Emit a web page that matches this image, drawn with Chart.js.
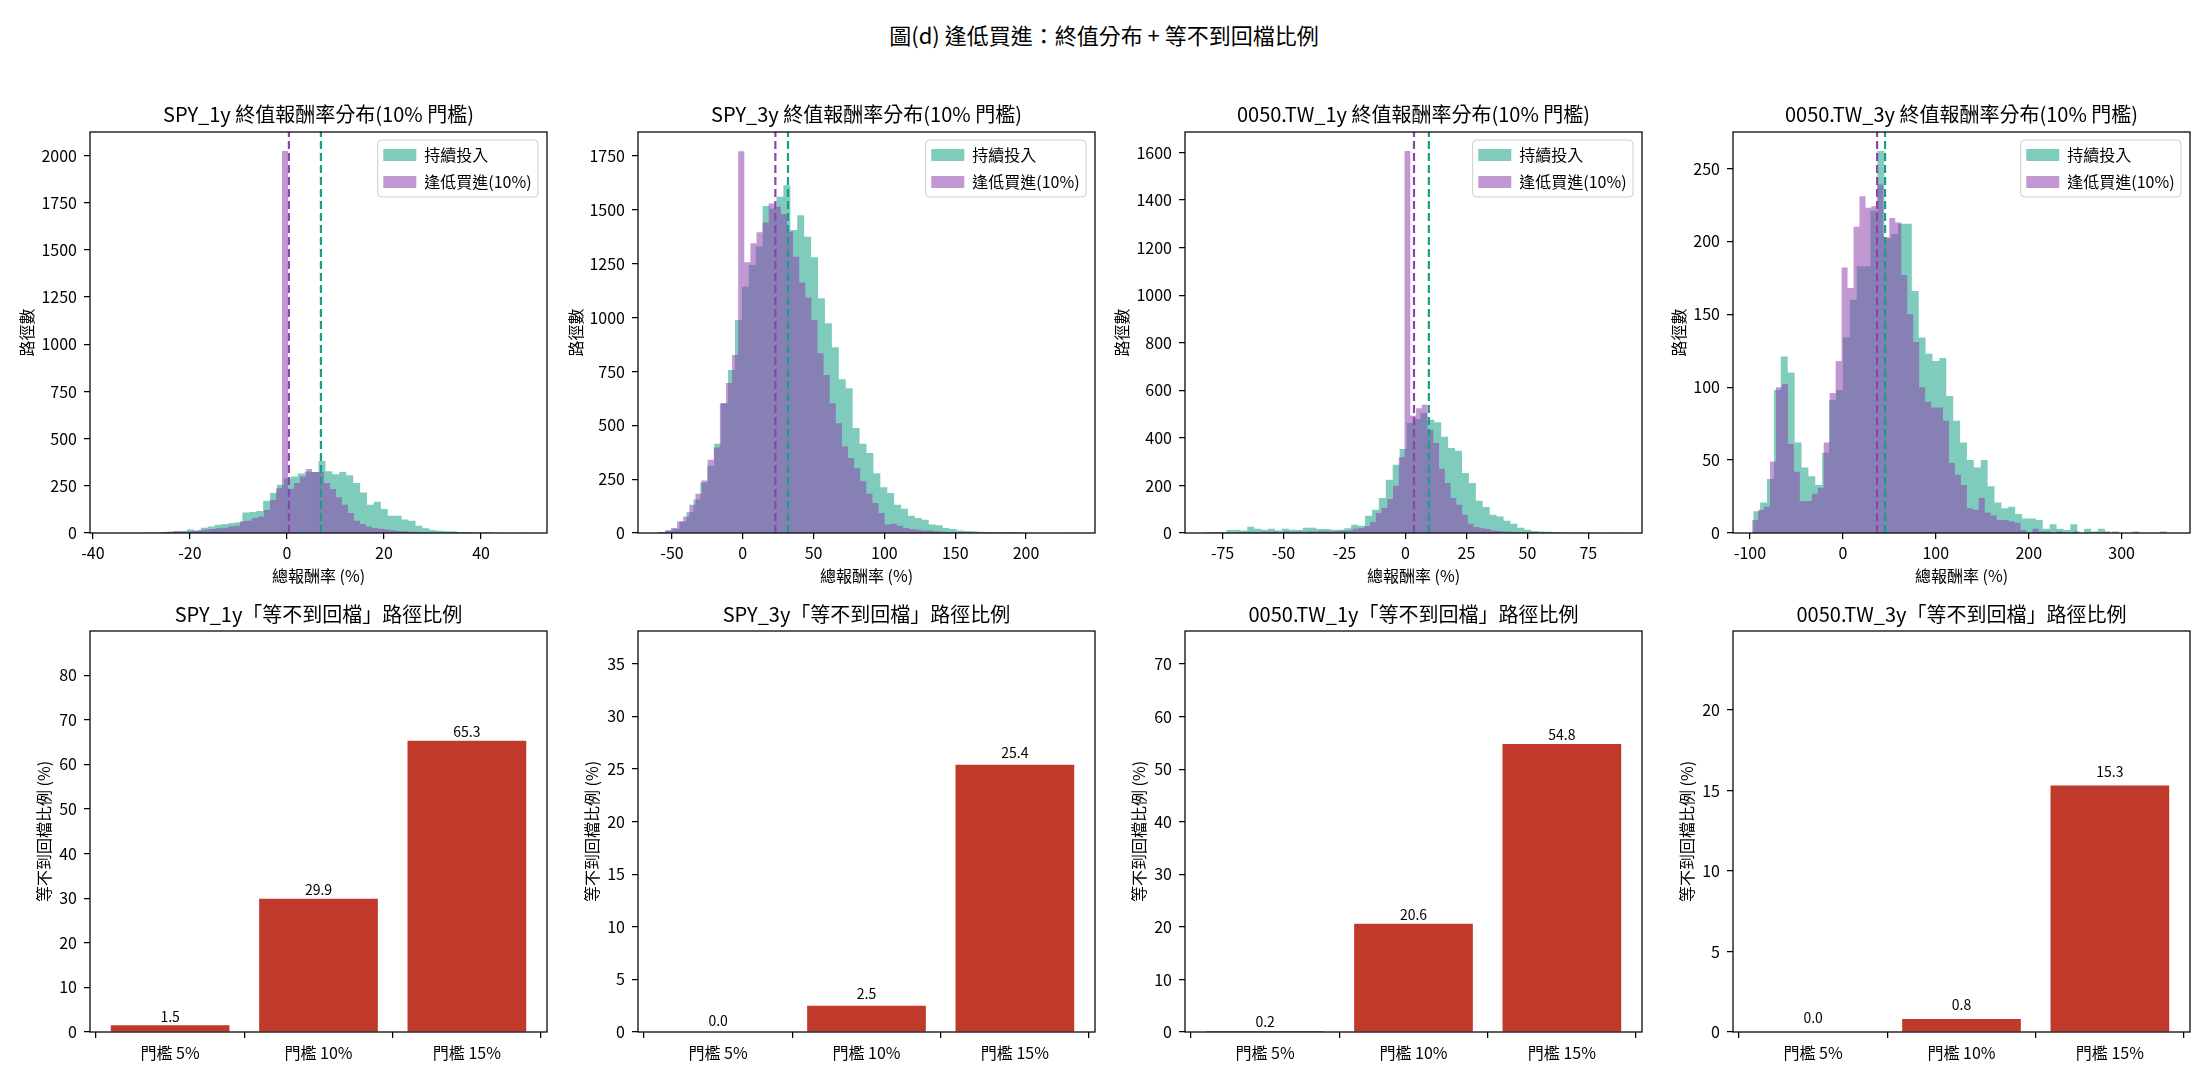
<!DOCTYPE html>
<html lang="zh-Hant">
<head>
<meta charset="utf-8">
<title>圖(d) 逢低買進：終值分布 + 等不到回檔比例</title>
<script src="https://cdn.jsdelivr.net/npm/chart.js@4.4.1/dist/chart.umd.min.js"></script>
<style>
  html, body { margin: 0; padding: 0; background: #fff; }
  body { position: relative; width: 2208px; height: 1080px; overflow: hidden;
         font-family: 'Noto Sans CJK TC', 'Noto Sans', sans-serif; }
  #supTitle { position: absolute; left: 0; top: 20px; width: 2208px; text-align: center;
              font-size: 22px; line-height: 28px; color: #000; }
  .panel { position: absolute; }
</style>
</head>
<body>
<div id="supTitle">圖(d) 逢低買進：終值分布 + 等不到回檔比例</div>
<div id="grid"></div>
<script>
/* ========================================
   Data
   ======================================== */

const holdLabel = '持續投入';
const dipLabel = '逢低買進(10%)';
const thresholdLabels = ['門檻 5%', '門檻 10%', '門檻 15%'];

// SPY_1y : histogram counts per bin, bins = [first edge, bin width]
const spy1yHold = [0,0,1,0,1, 3,3,5,7,9, 9,18,12,28,35, 44,48,53,57,108, 111,117,171,212,256, 290,300,315,325,323,
                   382,327,311,323,306, 265,214,150,166,127, 92,92,71,65,39, 25,16,12,9,9, 5,5,2,2,4, 1,0,0,0,1];
const spy1yDip = [5,7,9,9,9, 12,16,18,21,25, 28,34,39,62,65, 80,88,122,175,237, 2024,235,265,300,339, 323,323,265,233,189,
                  150,106,65,48,35, 26,23,18,14,11, 9,7,5,4,2, 2,1,1,1,1, 0,0,0,0,0, 0,0,0,0,0];
const spy1yHoldBins = [-36.3, 1.427];
const spy1yDipBins = [-25.75, 1.236];
const spy1yMedians = [7.0, 0.4];          // 持續投入, 逢低買進
const spy1yXRange = [-40.6, 53.6];
const spy1yXTicks = [-40, -20, 0, 20, 40];
const spy1yYMax = 2125;
const spy1yYTicks = [0, 250, 500, 750, 1000, 1250, 1500, 1750, 2000];
const spy1yNoPullback = [1.5, 29.9, 65.3];
const spy1yBarMax = 89.9;
const spy1yBarTicks = [0, 10, 20, 30, 40, 50, 60, 70, 80];

// SPY_3y
const spy3yHold = [3,12,19,54,97, 155,235,312,414,603, 757,989,1144,1245,1330, 1518,1507,1561,1615,1407,
                   1476,1376,1280,1090,974, 863,714,672,487,414, 371,278,213,186,131, 113,80,70,62,39,
                   36,23,19,12,9, 8,6,5,3,3, 5,5,1,0,0, 0,0,0,0,1];
const spy3yDip = [5,12,23,53,77, 131,182,244,340,397, 603,696,827,1773,1257, 1345,1396,1442,1530,1515,
                  1481,1399,1283,1163,1093, 989,835,734,603,510, 402,348,301,240,182, 139,93,39,43,34,
                  23,19,15,12,12, 8,6,5,3,3, 2,1,1,0,1, 0,0,0,0,1];
const spy3yHoldBins = [-59.3, 4.888];
const spy3yDipBins = [-59.3, 4.31];
const spy3yMedians = [31.9, 23.0];
const spy3yXRange = [-74, 248.7];
const spy3yXTicks = [-50, 0, 50, 100, 150, 200];
const spy3yYMax = 1862;
const spy3yYTicks = [0, 250, 500, 750, 1000, 1250, 1500, 1750];
const spy3yNoPullback = [0.0, 2.5, 25.4];
const spy3yBarMax = 38.1;
const spy3yBarTicks = [0, 5, 10, 15, 20, 25, 30, 35];

// 0050.TW_1y
const tw1yHold = [3,4,4,13,14, 10,26,18,14,18, 11,18,14,13,22, 22,17,17,14,14, 20,35,31,73,98, 147,224,287,353,462,
                  479,504,476,466,405, 357,346,252,210,136, 109,77,69,52,39, 22,14,8,6,5, 3,2,1,1,0, 1,0,0,0,1];
const tw1yDip = [3,4,5,4,6, 5,6,4,7,5, 6,5,7,6,8, 7,7,8,10,11, 18,21,28,46,84, 105,143,199,319,1606,
                 493,525,539,434,378, 270,210,147,119,77, 39,25,20,17,11, 8,6,5,4,3, 2,2,1,1,1, 0,1,0,0,1];
const tw1yHoldBins = [-81.9, 2.84];
const tw1yDipBins = [-68.81, 2.36];
const tw1yMedians = [9.6, 3.5];
const tw1yXRange = [-90.4, 97.0];
const tw1yXTicks = [-75, -50, -25, 0, 25, 50, 75];
const tw1yYMax = 1686;
const tw1yYTicks = [0, 200, 400, 600, 800, 1000, 1200, 1400, 1600];
const tw1yNoPullback = [0.2, 20.6, 54.8];
const tw1yBarMax = 76.3;
const tw1yBarTicks = [0, 10, 20, 30, 40, 50, 60, 70];

// 0050.TW_3y
const tw3yHold = [15,21,37,98,121, 110,62,45,39,33, 55,91,98,134,160, 183,183,221,262,202, 205,212,212,166,134,
                  123,118,120,94,77, 62,50,45,50,32, 21,17,18,13,10, 10,9,3,6,3, 2,6,0,3,1, 3,0,1,0,0, 1,0,0,0,1];
const tw3yDip = [9,16,18,49,100, 102,61,42,22,22, 27,31,62,96,118, 182,168,210,231,223, 224,239,203,216,213,
                 177,150,131,100,90, 86,86,77,48,40, 33,17,16,24,14, 12,9,9,8,7, 2,0,3,1,1, 0,1,0,0,1, 0,0,0,0,1];
const tw3yHoldBins = [-96.5, 7.42];
const tw3yDipBins = [-97.7, 6.42];
const tw3yMedians = [45.4, 36.8];
const tw3yXRange = [-118.3, 373.6];
const tw3yXTicks = [-100, 0, 100, 200, 300];
const tw3yYMax = 275;
const tw3yYTicks = [0, 50, 100, 150, 200, 250];
const tw3yNoPullback = [0.0, 0.8, 15.3];
const tw3yBarMax = 24.9;
const tw3yBarTicks = [0, 5, 10, 15, 20];

const panels = [
    { name: 'SPY_1y', hold: spy1yHold, dip: spy1yDip, holdBins: spy1yHoldBins, dipBins: spy1yDipBins,
      medians: spy1yMedians, xRange: spy1yXRange, xTicks: spy1yXTicks, yMax: spy1yYMax, yTicks: spy1yYTicks,
      bars: spy1yNoPullback, barMax: spy1yBarMax, barTicks: spy1yBarTicks },
    { name: 'SPY_3y', hold: spy3yHold, dip: spy3yDip, holdBins: spy3yHoldBins, dipBins: spy3yDipBins,
      medians: spy3yMedians, xRange: spy3yXRange, xTicks: spy3yXTicks, yMax: spy3yYMax, yTicks: spy3yYTicks,
      bars: spy3yNoPullback, barMax: spy3yBarMax, barTicks: spy3yBarTicks },
    { name: '0050.TW_1y', hold: tw1yHold, dip: tw1yDip, holdBins: tw1yHoldBins, dipBins: tw1yDipBins,
      medians: tw1yMedians, xRange: tw1yXRange, xTicks: tw1yXTicks, yMax: tw1yYMax, yTicks: tw1yYTicks,
      bars: tw1yNoPullback, barMax: tw1yBarMax, barTicks: tw1yBarTicks },
    { name: '0050.TW_3y', hold: tw3yHold, dip: tw3yDip, holdBins: tw3yHoldBins, dipBins: tw3yDipBins,
      medians: tw3yMedians, xRange: tw3yXRange, xTicks: tw3yXTicks, yMax: tw3yYMax, yTicks: tw3yYTicks,
      bars: tw3yNoPullback, barMax: tw3yBarMax, barTicks: tw3yBarTicks }
];

/* ========================================
   Layout + style
   ======================================== */

const FONT = "'Noto Sans CJK TC', 'Noto Sans', sans-serif";
const GREEN = '#16A085';
const PURPLE = '#8E44AD';
const RED = '#C0392B';
const GREEN_FILL = 'rgba(22,160,133,0.55)';
const PURPLE_FILL = 'rgba(142,68,173,0.55)';

const PLOT_W = 457, PLOT_H = 401;
const COL_LEFT = [90, 638, 1185, 1733];
const HIST_TOP = 132, BAR_TOP = 631;
const HIST_AXIS_W = [73, 72, 73, 64];
const BAR_AXIS_W = 56;
const HIST_TITLE_H = 30, BAR_TITLE_H = 29;
const HIST_XAXIS_H = 57, BAR_XAXIS_H = 40;
const PAD_RIGHT = 10;

Chart.defaults.font.family = FONT;
Chart.defaults.color = '#000';

// plot frame on all four sides (matplotlib spines)
const frameBox = {
    id: 'frameBox',
    afterDraw(chart) {
        const { ctx, chartArea: a } = chart;
        ctx.save();
        ctx.strokeStyle = '#000';
        ctx.lineWidth = 1.25;
        ctx.strokeRect(a.left, a.top, a.right - a.left, a.bottom - a.top);
        ctx.restore();
    }
};

// move the legend to the upper right corner of the plot and give it a frame
const legendCorner = {
    id: 'legendCorner',
    afterLayout(chart) {
        const lg = chart.legend, a = chart.chartArea;
        if (!lg || !lg.columnSizes || !lg.columnSizes.length) return;
        const pad = lg.options.labels.padding;
        const fw = lg.columnSizes[0].width + 12;
        const fl = a.right - 9 - fw;
        const ft = a.top + 8;
        lg.left = fl + 5.6 - pad;
        lg.top = ft - 4;
        lg.right = lg.left + lg.width;
        lg.bottom = lg.top + 70;
        lg._frame = { x: fl, y: ft, w: fw, h: 57 };
    },
    beforeDraw(chart) {
        const f = chart.legend && chart.legend._frame;
        if (!f) return;
        const ctx = chart.ctx;
        ctx.save();
        ctx.beginPath();
        ctx.roundRect(f.x, f.y, f.w, f.h, 4);
        ctx.fillStyle = 'rgba(255,255,255,0.8)';
        ctx.fill();
        ctx.strokeStyle = '#cccccc';
        ctx.lineWidth = 1;
        ctx.stroke();
        ctx.restore();
    }
};

// value labels above the bars
const barValueLabels = {
    id: 'barValueLabels',
    afterDatasetsDraw(chart) {
        const { ctx } = chart;
        const yScale = chart.scales.y;
        const ds = chart.data.datasets[0];
        const meta = chart.getDatasetMeta(0);
        ctx.save();
        ctx.font = `14px ${FONT}`;
        ctx.fillStyle = '#000';
        ctx.textAlign = 'center';
        ctx.textBaseline = 'alphabetic';
        meta.data.forEach((bar, i) => {
            const v = ds.data[i].y;
            ctx.fillText(v.toFixed(1), bar.x, yScale.getPixelForValue(v + 0.5) - 1);
        });
        ctx.restore();
    }
};

function stepPoints(bins, counts) {
    const [start, width] = bins;
    const pts = counts.map((c, i) => ({ x: start + i * width, y: c }));
    pts.push({ x: start + counts.length * width, y: 0 });
    return pts;
}

function tickList(values) {
    return scale => { scale.ticks = values.map(v => ({ value: v })); };
}

function axisBase() {
    return {
        grid: { drawOnChartArea: false, drawTicks: true, tickLength: 6, color: '#000', lineWidth: 1.25 },
        border: { display: false }
    };
}

function plotTitle(text, bottomPad) {
    // fullSize false: centred over the plot area like matplotlib
    return { display: true, fullSize: false, text, color: '#000',
             font: { family: FONT, size: 20, weight: 'normal' }, padding: { top: 0, bottom: bottomPad } };
}

function makeCanvas(parent, left, top, w, h) {
    const box = document.createElement('div');
    box.className = 'panel';
    box.style.left = left + 'px';
    box.style.top = top + 'px';
    box.style.width = w + 'px';
    box.style.height = h + 'px';
    const c = document.createElement('canvas');
    c.width = w;
    c.height = h;
    c.style.width = w + 'px';
    c.style.height = h + 'px';
    box.appendChild(c);
    parent.appendChild(box);
    return c;
}

function drawHistogram(canvas, p, axisW) {
    const medianLine = (x, color, order) => ({
        label: '_median', data: [{ x, y: 0 }, { x, y: p.yMax }],
        borderColor: color, borderWidth: 2.2, borderDash: [8, 4],
        pointRadius: 0, fill: false, order
    });
    return new Chart(canvas, {
        type: 'line',
        data: {
            datasets: [
                { label: holdLabel, data: stepPoints(p.holdBins, p.hold), stepped: true, fill: 'origin',
                  backgroundColor: GREEN_FILL, borderColor: 'rgba(0,0,0,0)', borderWidth: 0, pointRadius: 0, order: 3 },
                { label: dipLabel, data: stepPoints(p.dipBins, p.dip), stepped: true, fill: 'origin',
                  backgroundColor: PURPLE_FILL, borderColor: 'rgba(0,0,0,0)', borderWidth: 0, pointRadius: 0, order: 2 },
                medianLine(p.medians[1], PURPLE, 1),
                medianLine(p.medians[0], GREEN, 0)
            ]
        },
        options: {
            responsive: false, animation: false, events: [], devicePixelRatio: 1,
            layout: { padding: { left: 0, right: PAD_RIGHT, top: 0, bottom: 0 } },
            plugins: {
                title: plotTitle(`${p.name} 終值報酬率分布(10% 門檻)`, 6),
                legend: {
                    position: 'chartArea', align: 'start',
                    labels: {
                        boxWidth: 33, boxHeight: 12, padding: 11, color: '#000',
                        font: { family: FONT, size: 16 },
                        filter: item => item.datasetIndex < 2,
                        sort: (a, b) => a.datasetIndex - b.datasetIndex
                    }
                },
                tooltip: { enabled: false }
            },
            scales: {
                x: Object.assign(axisBase(), {
                    type: 'linear', min: p.xRange[0], max: p.xRange[1],
                    afterBuildTicks: tickList(p.xTicks),
                    afterFit: s => { s.height = HIST_XAXIS_H; },
                    ticks: { color: '#000', font: { size: 16 }, padding: 4, maxRotation: 0, autoSkip: false,
                             callback: v => String(v) },
                    title: { display: true, text: '總報酬率 (%)', color: '#000', font: { size: 16 },
                             padding: { top: 0, bottom: 4 } }
                }),
                y: Object.assign(axisBase(), {
                    min: 0, max: p.yMax,
                    afterBuildTicks: tickList(p.yTicks),
                    afterFit: s => { s.width = axisW; },
                    ticks: { color: '#000', font: { size: 16 }, padding: 7, callback: v => String(v) },
                    title: { display: true, text: '路徑數', color: '#000', font: { size: 16 },
                             padding: { top: 0, bottom: 0 } }
                })
            }
        },
        plugins: [legendCorner, frameBox]
    });
}

function drawBars(canvas, p) {
    return new Chart(canvas, {
        type: 'bar',
        data: {
            datasets: [{
                data: p.bars.map((v, i) => ({ x: i, y: v })),
                backgroundColor: RED, categoryPercentage: 0.8, barPercentage: 1.0
            }]
        },
        options: {
            responsive: false, animation: false, events: [], devicePixelRatio: 1,
            layout: { padding: { left: 0, right: PAD_RIGHT, top: 0, bottom: 0 } },
            plugins: {
                title: plotTitle(`${p.name}「等不到回檔」路徑比例`, 5),
                legend: { display: false },
                tooltip: { enabled: false }
            },
            scales: {
                x: Object.assign(axisBase(), {
                    type: 'linear', min: -0.54, max: 2.54, offset: false,
                    afterBuildTicks: tickList([0, 1, 2]),
                    afterFit: s => { s.height = BAR_XAXIS_H; },
                    ticks: { color: '#000', font: { size: 16 }, padding: 5, maxRotation: 0, autoSkip: false,
                             callback: v => thresholdLabels[v] }
                }),
                y: Object.assign(axisBase(), {
                    min: 0, max: p.barMax,
                    afterBuildTicks: tickList(p.barTicks),
                    afterFit: s => { s.width = BAR_AXIS_W; },
                    ticks: { color: '#000', font: { size: 16 }, padding: 7, callback: v => String(v) },
                    title: { display: true, text: '等不到回檔比例 (%)', color: '#000', font: { size: 16 },
                             padding: { top: 0, bottom: 0 } }
                })
            }
        },
        plugins: [barValueLabels, frameBox]
    });
}

const grid = document.getElementById('grid');
panels.forEach((p, i) => {
    const left = COL_LEFT[i];
    const hw = HIST_AXIS_W[i];
    const hist = makeCanvas(grid, left - hw, HIST_TOP - HIST_TITLE_H,
                            hw + PLOT_W + PAD_RIGHT, HIST_TITLE_H + PLOT_H + HIST_XAXIS_H);
    drawHistogram(hist, p, hw);
    const bar = makeCanvas(grid, left - BAR_AXIS_W, BAR_TOP - BAR_TITLE_H,
                           BAR_AXIS_W + PLOT_W + PAD_RIGHT, BAR_TITLE_H + PLOT_H + BAR_XAXIS_H);
    drawBars(bar, p);
});
</script>
</body>
</html>
